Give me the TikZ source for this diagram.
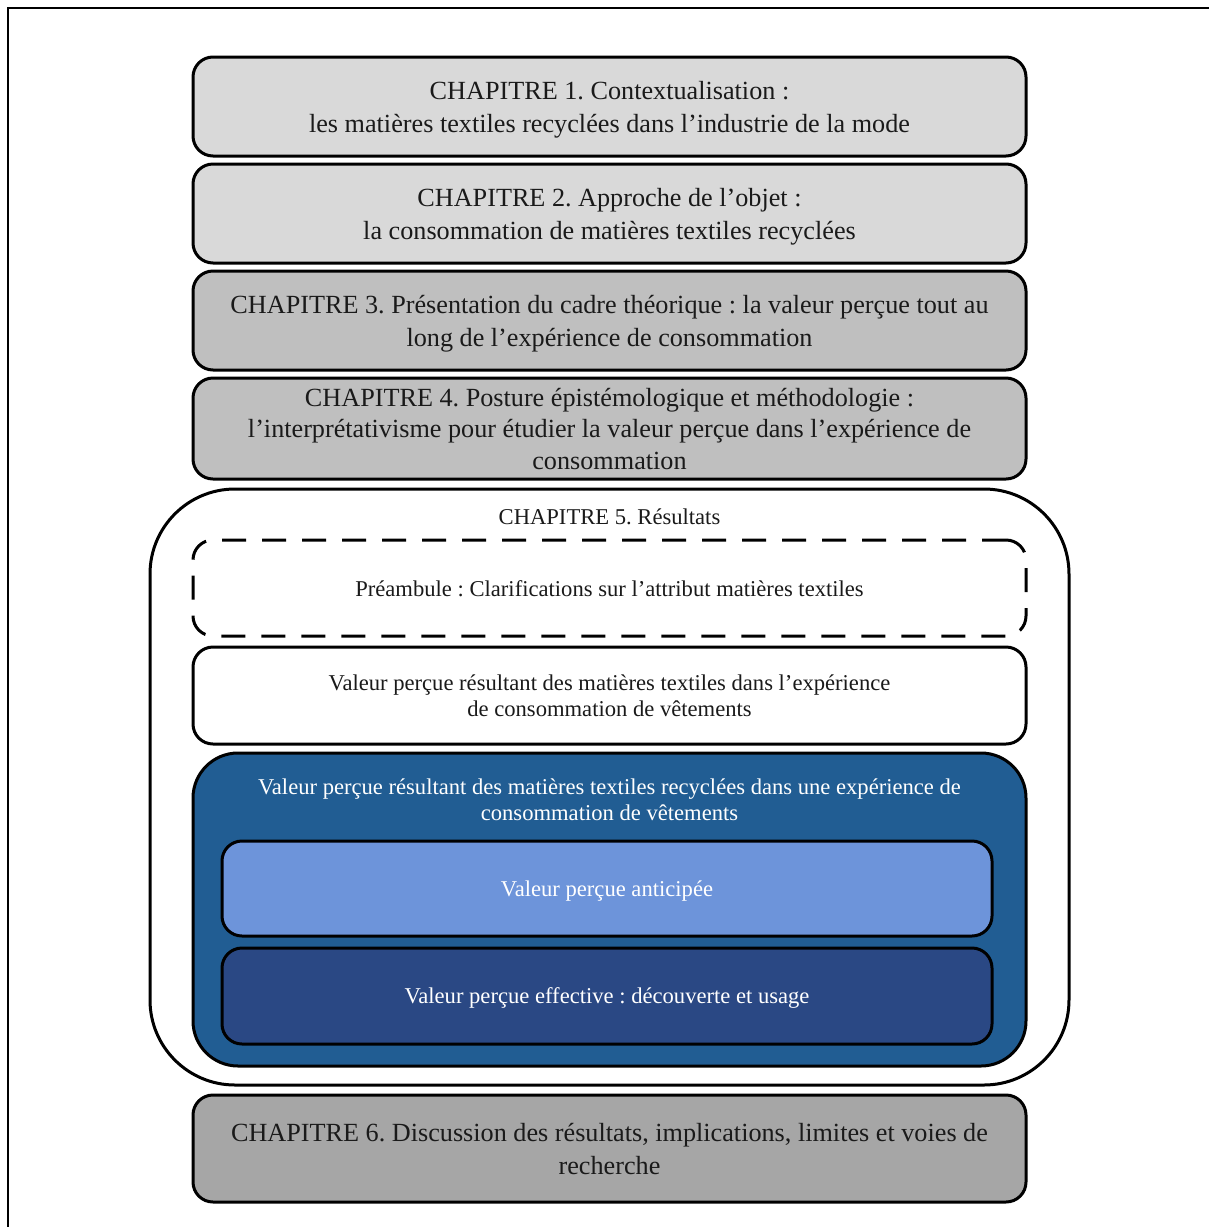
\documentclass[tikz,border=0pt]{standalone}
\usepackage{fontspec}
\setmainfont{Liberation Serif}
\frenchspacing
\definecolor{gA}{HTML}{D9D9D9}
\definecolor{gB}{HTML}{BFBFBF}
\definecolor{gC}{HTML}{A6A6A6}
\definecolor{bMid}{HTML}{215D93}
\definecolor{bLight}{HTML}{6D94DA}
\definecolor{bDark}{HTML}{2A4884}
\definecolor{txt}{HTML}{1A1A1A}
\tikzset{
  chapbox/.style={draw=black, line width=3pt, rounded corners=20pt, minimum width=833pt,
    inner sep=0pt},
  innerbox/.style={draw=black, line width=3pt, rounded corners=20pt, minimum width=770pt,
    inner sep=0pt},
  chaptext/.style={inner sep=0pt, align=center, text=txt, font=\fontsize{26.2}{33}\selectfont},
  subtext/.style={inner sep=0pt, align=center, text=txt, font=\fontsize{22.6}{26}\selectfont},
  whitetext/.style={inner sep=0pt, align=center, text=white, font=\fontsize{22.6}{26}\selectfont}
}
\begin{document}
\begin{tikzpicture}[x=1pt,y=-1pt]
\useasboundingbox (0,0) rectangle (1209,1227);
% frame
\draw[line width=2pt] (8,1227) -- (8,8) -- (1209,8);
% chapters 1-4
\node[chapbox, fill=gA, minimum height=99pt] (ch1) at (609.5,106.5) {};
\node[chaptext] (ch1t) at ([yshift=-3pt]ch1.center)
  {CHAPITRE 1. Contextualisation :\\les matières textiles recyclées dans l’industrie de la mode};
\node[chapbox, fill=gA, minimum height=99pt] (ch2) at (609.5,213.5) {};
\node[chaptext] (ch2t) at ([yshift=-3pt]ch2.center)
  {CHAPITRE 2. Approche de l’objet :\\la consommation de matières textiles recyclées};
\node[chapbox, fill=gB, minimum height=99pt] (ch3) at (609.5,320.5) {};
\node[chaptext] (ch3t) at ([yshift=-3.5pt]ch3.center)
  {CHAPITRE 3. Présentation du cadre théorique : la valeur perçue tout au\\long de l’expérience de consommation};
\node[chapbox, fill=gB, minimum height=101pt] (ch4) at (609.5,428.5) {};
\node[chaptext, font=\fontsize{26.2}{31.5}\selectfont] (ch4t) at ([yshift=-0.5pt]ch4.center)
  {CHAPITRE 4. Posture épistémologique et méthodologie :\\l’interprétativisme pour étudier la valeur perçue dans l’expérience de\\consommation};
% chapter 5
\node[draw=black, line width=3pt, rounded corners=85pt, fill=white, minimum width=919pt,
  minimum height=596pt, inner sep=0pt] (ch5) at (609.5,787) {};
\node[subtext] (ch5t) at (609.5,517) {CHAPITRE 5. Résultats};
\node[chapbox, fill=white, dashed, dash pattern=on 24pt off 16pt, minimum height=96pt] (pre) at (609.5,588) {};
\node[subtext] (pret) at ([yshift=-1pt]pre.center)
  {Préambule : Clarifications sur l’attribut matières textiles};
\node[chapbox, fill=white, minimum height=97pt] (val) at (609.5,695.5) {};
\node[subtext] (valt) at (val.center)
  {Valeur perçue résultant des matières textiles dans l’expérience\\de consommation de vêtements};
\node[chapbox, rounded corners=45pt, fill=bMid, minimum height=313pt] (blue) at (609.5,909.5) {};
\node[whitetext] (bluet) at (609.5,800)
  {Valeur perçue résultant des matières textiles recyclées dans une expérience de\\consommation de vêtements};
\node[innerbox, fill=bLight, minimum height=95pt] (ant) at (607,888.5) {};
\node[whitetext] (antt) at ([yshift=-3pt]ant.center) {Valeur perçue anticipée};
\node[innerbox, fill=bDark, minimum height=96pt] (eff) at (607,996) {};
\node[whitetext] (efft) at ([yshift=-2pt]eff.center) {Valeur perçue effective : découverte et usage};
% chapter 6
\node[chapbox, fill=gC, minimum height=107pt] (ch6) at (609.5,1148.5) {};
\node[chaptext] (ch6t) at ([yshift=-1pt]ch6.center)
  {CHAPITRE 6. Discussion des résultats, implications, limites et voies de\\recherche};
\end{tikzpicture}
\end{document}
